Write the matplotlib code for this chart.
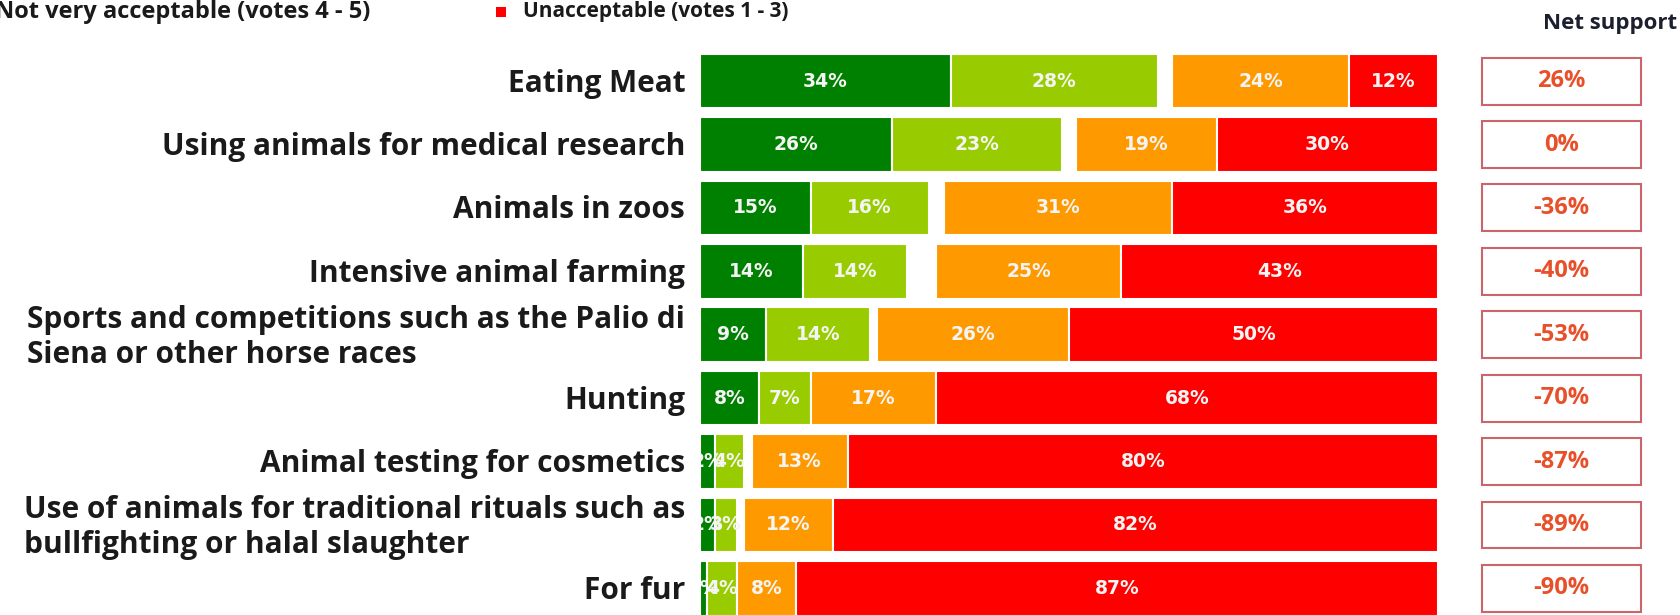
import matplotlib
matplotlib.use("Agg")
import matplotlib.pyplot as plt
from matplotlib.patches import Rectangle

# survey answers, % of respondents
categories = [
    "Eating Meat",
    "Using animals for medical research",
    "Animals in zoos",
    "Intensive animal farming",
    "Sports and competitions such as the Palio di\nSiena or other horse races",
    "Hunting",
    "Animal testing for cosmetics",
    "Use of animals for traditional rituals such as\nbullfighting or halal slaughter",
    "For fur",
]
very = [34, 26, 15, 14, 9, 8, 2, 2, 1]
quite = [28, 23, 16, 14, 14, 7, 4, 3, 4]
not_very = [24, 19, 31, 25, 26, 17, 13, 12, 8]
unacc = [12, 30, 36, 43, 50, 68, 80, 82, 87]
net = [26, 0, -36, -40, -53, -70, -87, -89, -90]

C_VERY = "#008000"
C_QUITE = "#99cc00"
C_NOT = "#ff9900"
C_UNACC = "#ff0000"
LABEL_FONT = "Open Sans"
BAR_FONT = "DejaVu Sans"

fig = plt.figure(figsize=(16.8, 6.15), dpi=100)
# row centres at ~81px + 63.4px steps, bars from x=700px to 1438px
ax = fig.add_axes([700 / 1680, 0, 738 / 1680, 1])
ax.set_xlim(0, 100)
ax.set_ylim(8.42, -1.28)
ax.axis("off")

ys = list(range(len(categories)))
h = 0.86
left_quite = very
left_unacc = [100 - u for u in unacc]
left_not = [100 - u - n for u, n in zip(unacc, not_very)]

segments = [
    (very, [0] * len(ys), C_VERY),
    (quite, left_quite, C_QUITE),
    (not_very, left_not, C_NOT),
    (unacc, left_unacc, C_UNACC),
]
for vals, lefts, col in segments:
    ax.barh(ys, vals, left=lefts, height=h, color=col, edgecolor="white", linewidth=1.5)
    for y, v, l in zip(ys, vals, lefts):
        ax.text(l + v / 2, y, f"{v}%", ha="center", va="center", color="#f4f4f4",
                fontsize=13.5, fontweight="bold", family=BAR_FONT, clip_on=True)

for y, cat in zip(ys, categories):
    ax.text(-2.0, y + 0.04, cat, ha="right", va="center", multialignment="left",
            fontsize=21.5, fontweight="bold", family=LABEL_FONT, color="#1a1a1a",
            linespacing=1.2)

# net support boxes
box_l, box_w = (1482 - 700) / 7.38, 159 / 7.38
for y, n in zip(ys, net):
    ax.add_patch(Rectangle((box_l, y - 0.37), box_w, 0.74, facecolor="white",
                           edgecolor="#c9656b", linewidth=1.5, clip_on=False))
    ax.text(box_l + box_w / 2, y, f"{n}%", ha="center", va="center",
            color="#e8502a", fontsize=17, fontweight="bold", family=LABEL_FONT,
            clip_on=False)

fig.text(1610 / 1680, 1 - 24 / 615, "Net support", ha="center", va="center",
         fontsize=16, fontweight="bold", family=LABEL_FONT, color="#1b1f2e")

# legend (cropped at the left edge in the original)
fig.text(-0.003, 1 - 12 / 615, "Not very acceptable (votes 4 - 5)", ha="left", va="center",
         fontsize=17, fontweight="bold", family=LABEL_FONT, color="#1a1a1a")
fig.patches.append(Rectangle((496 / 1680, 1 - 17 / 615), 10 / 1680, 10 / 615,
                             facecolor=C_UNACC, edgecolor="none",
                             transform=fig.transFigure, figure=fig))
fig.text(523 / 1680, 1 - 12 / 615, "Unacceptable (votes 1 - 3)", ha="left", va="center",
         fontsize=15, fontweight="bold", family=LABEL_FONT, color="#1a1a1a")

fig.savefig("out.png", dpi=100, facecolor="white")
